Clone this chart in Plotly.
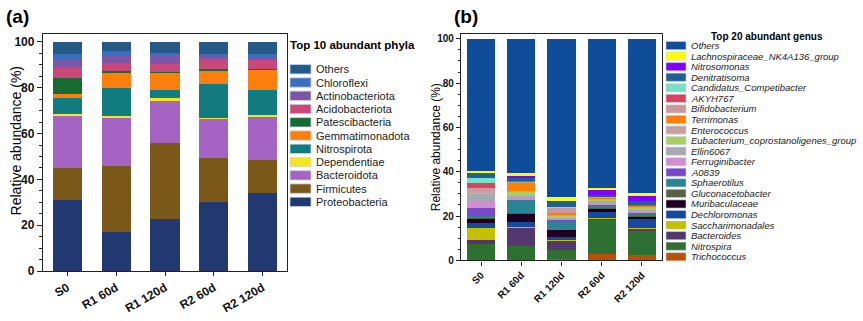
import plotly.graph_objects as go

samples = ["S0", "R1 60d", "R1 120d", "R2 60d", "R2 120d"]

# ---- Phylum level (%), listed from the bottom of each stack upward ----
proteobacteria = [31.0, 17.1, 22.6, 30.3, 34.1]
firmicutes = [13.9, 28.8, 33.4, 18.9, 14.5]
bacteroidota = [23.0, 21.2, 18.3, 17.2, 18.5]
dependentiae = [0.7, 0.8, 1.1, 0.6, 0.9]
nitrospirota = [7.1, 11.9, 3.8, 14.5, 10.9]
gemmatimonadota = [1.4, 7.0, 7.3, 6.1, 8.9]
patescibacteria = [7.3, 0.5, 0.4, 0.5, 0.5]
acidobacteriota = [4.1, 3.3, 3.3, 4.6, 3.9]
actinobacteriota = [3.5, 3.9, 4.1, 1.2, 1.3]
chloroflexi = [2.9, 1.7, 1.0, 0.7, 1.1]
phyla_others = [5.1, 3.8, 4.7, 5.4, 5.4]

phyla = [
    ("Proteobacteria", proteobacteria, "#213870"),
    ("Firmicutes", firmicutes, "#7a5819"),
    ("Bacteroidota", bacteroidota, "#a464c4"),
    ("Dependentiae", dependentiae, "#f3e51e"),
    ("Nitrospirota", nitrospirota, "#127b80"),
    ("Gemmatimonadota", gemmatimonadota, "#ff7f0e"),
    ("Patescibacteria", patescibacteria, "#166a32"),
    ("Acidobacteriota", acidobacteriota, "#c8487a"),
    ("Actinobacteriota", actinobacteriota, "#7b56a8"),
    ("Chloroflexi", chloroflexi, "#3a6fbf"),
    ("Others", phyla_others, "#245a8a"),
]

# ---- Genus level (%), listed from the bottom of each stack upward ----
trichococcus = [0.2, 0.3, 0.7, 3.1, 2.3]
nitrospira = [7.0, 6.3, 4.1, 14.9, 11.3]
bacteroides = [1.8, 8.2, 4.0, 1.0, 0.7]
saccharimonadales = [5.5, 0.3, 0.4, 0.2, 0.2]
dechloromonas = [2.5, 2.4, 1.5, 2.7, 4.2]
muribaculaceae = [1.8, 3.8, 3.0, 1.4, 0.9]
gluconacetobacter = [0.2, 0.3, 0.2, 0.4, 0.5]
sphaerotilus = [1.0, 5.7, 3.6, 1.2, 0.8]
a0839 = [3.6, 0.3, 0.8, 0.3, 0.3]
ferruginibacter = [3.2, 0.6, 0.6, 0.8, 1.2]
ellin6067 = [3.3, 1.0, 0.4, 0.8, 0.7]
eubacterium = [0.6, 1.9, 0.9, 0.4, 0.7]
enterococcus = [0.6, 0.3, 0.3, 0.3, 0.3]
terrimonas = [0.2, 3.7, 0.8, 0.9, 0.5]
bifidobacterium = [1.3, 0.4, 2.5, 0.3, 0.3]
akyh767 = [2.1, 0.3, 0.2, 0.1, 0.1]
competibacter = [2.2, 0.4, 0.2, 0.1, 0.1]
denitratisoma = [2.3, 0.8, 2.3, 0.7, 1.5]
nitrosomonas = [0.2, 1.2, 0.2, 2.3, 2.3]
lachnospiraceae = [0.7, 1.2, 1.8, 0.8, 1.5]
genus_others = [59.5, 60.6, 71.5, 67.3, 69.6]

genera = [
    ("Trichococcus", trichococcus, "#b85200"),
    ("Nitrospira", nitrospira, "#2e7031"),
    ("Bacteroides", bacteroides, "#52386e"),
    ("Saccharimonadales", saccharimonadales, "#c2c000"),
    ("Dechloromonas", dechloromonas, "#1549a0"),
    ("Muribaculaceae", muribaculaceae, "#1e0020"),
    ("Gluconacetobacter", gluconacetobacter, "#5a6140"),
    ("Sphaerotilus", sphaerotilus, "#2a8494"),
    ("A0839", a0839, "#7848c8"),
    ("Ferruginibacter", ferruginibacter, "#d08ed0"),
    ("Ellin6067", ellin6067, "#a8a8b2"),
    ("Eubacterium_coprostanoligenes_group", eubacterium, "#a8d060"),
    ("Enterococcus", enterococcus, "#c9a0a0"),
    ("Terrimonas", terrimonas, "#ff7f00"),
    ("Bifidobacterium", bifidobacterium, "#c89a9c"),
    ("AKYH767", akyh767, "#dc4260"),
    ("Candidatus_Competibacter", competibacter, "#76e0c4"),
    ("Denitratisoma", denitratisoma, "#1f5f94"),
    ("Nitrosomonas", nitrosomonas, "#8000ff"),
    ("Lachnospiraceae_NK4A136_group", lachnospiraceae, "#ffff00"),
    ("Others", genus_others, "#0f4c9a"),
]

W, H = 863, 321
FONT = "Liberation Sans, Arial, sans-serif"


def px(x):
    return x / W


def py(y):
    return 1 - y / H


fig = go.Figure()

for name, vals, col in phyla:
    fig.add_trace(go.Bar(x=samples, y=vals, name=name, marker_color=col,
                         marker_line_width=0, width=0.6, showlegend=False,
                         xaxis="x", yaxis="y"))

for name, vals, col in genera:
    fig.add_trace(go.Bar(x=samples, y=vals, name=name, marker_color=col,
                         marker_line_width=0, width=0.7, showlegend=False,
                         xaxis="x2", yaxis="y2"))

axis_common = dict(showline=True, linecolor="#222", linewidth=1.3, mirror=True,
                   ticks="outside", tickcolor="#222", showgrid=False, zeroline=False)

fig.update_layout(
    width=W, height=H, margin=dict(l=0, r=0, t=0, b=0),
    paper_bgcolor="white", plot_bgcolor="white", barmode="stack",
    font=dict(family=FONT, color="#111"),
    xaxis=dict(domain=[px(43), px(287)], anchor="y", tickangle=-30, ticklen=4,
               tickfont=dict(size=12, weight="bold"), **axis_common),
    yaxis=dict(domain=[py(277), py(34)], anchor="x", range=[0, 103.4], dtick=20,
               ticklen=5, tickfont=dict(size=12, weight="bold"),
               minor=dict(dtick=5, ticks="outside", ticklen=2.5, tickcolor="#222"),
               **axis_common),
    xaxis2=dict(domain=[px(461), px(662)], anchor="y2", tickangle=-45, ticklen=4,
                tickfont=dict(size=10, weight="bold"), **axis_common),
    yaxis2=dict(domain=[py(266), py(34)], anchor="x2", range=[0, 102.1], dtick=20,
                ticklen=4, tickfont=dict(size=10, weight="bold"),
                minor=dict(dtick=5, ticks="outside", ticklen=2, tickcolor="#222"),
                **axis_common),
)

annotations = []
shapes = []

# panel tags and y-axis titles
annotations.append(dict(x=px(4), y=py(16), xref="paper", yref="paper", text="<b>(a)</b>",
                        showarrow=False, xanchor="left", yanchor="middle",
                        font=dict(size=19, family=FONT, color="#000")))
annotations.append(dict(x=px(452), y=py(16), xref="paper", yref="paper", text="<b>(b)</b>",
                        showarrow=False, xanchor="left", yanchor="middle",
                        font=dict(size=19, family=FONT, color="#000")))
annotations.append(dict(x=px(16), y=py(144), xref="paper", yref="paper",
                        text="Relative abundance (%)", textangle=-90, showarrow=False,
                        xanchor="center", yanchor="middle",
                        font=dict(size=14, family=FONT, color="#000")))
annotations.append(dict(x=px(436), y=py(150), xref="paper", yref="paper",
                        text="Relative abundance (%)", textangle=-90, showarrow=False,
                        xanchor="center", yanchor="middle",
                        font=dict(size=12, family=FONT, color="#000")))

# legend for panel (a): top entry is the top of the stack
annotations.append(dict(x=px(288), y=py(45), xref="paper", yref="paper",
                        text="<b>Top 10 abundant phyla</b>", showarrow=False,
                        xanchor="left", yanchor="middle",
                        font=dict(size=11.5, family=FONT, color="#000")))
for i, (name, _, col) in enumerate(reversed(phyla)):
    yc = 70 + i * 13.6
    shapes.append(dict(type="rect", xref="paper", yref="paper",
                       x0=px(290), x1=px(311), y0=py(yc + 4.8), y1=py(yc - 4.8),
                       fillcolor=col, line=dict(color="#c8d4e4", width=0.8)))
    annotations.append(dict(x=px(314), y=py(yc), xref="paper", yref="paper", text=name,
                            showarrow=False, xanchor="left", yanchor="middle",
                            font=dict(size=11, family=FONT, color="#222")))

# legend for panel (b)
annotations.append(dict(x=px(767), y=py(36), xref="paper", yref="paper",
                        text="<b>Top 20 abundant genus</b>", showarrow=False,
                        xanchor="center", yanchor="middle",
                        font=dict(size=10, family=FONT, color="#000")))
for i, (name, _, col) in enumerate(reversed(genera)):
    yc = 45.7 + i * 10.83
    shapes.append(dict(type="rect", xref="paper", yref="paper",
                       x0=px(666), x1=px(686), y0=py(yc + 4.2), y1=py(yc - 4.2),
                       fillcolor=col, line=dict(color="#c8d4e4", width=0.6)))
    annotations.append(dict(x=px(689), y=py(yc), xref="paper", yref="paper",
                            text=f"<i>{name}</i>", showarrow=False,
                            xanchor="left", yanchor="middle",
                            font=dict(size=9.5, family=FONT, color="#222")))

fig.update_layout(annotations=annotations, shapes=shapes)

fig.write_html("out.html")
